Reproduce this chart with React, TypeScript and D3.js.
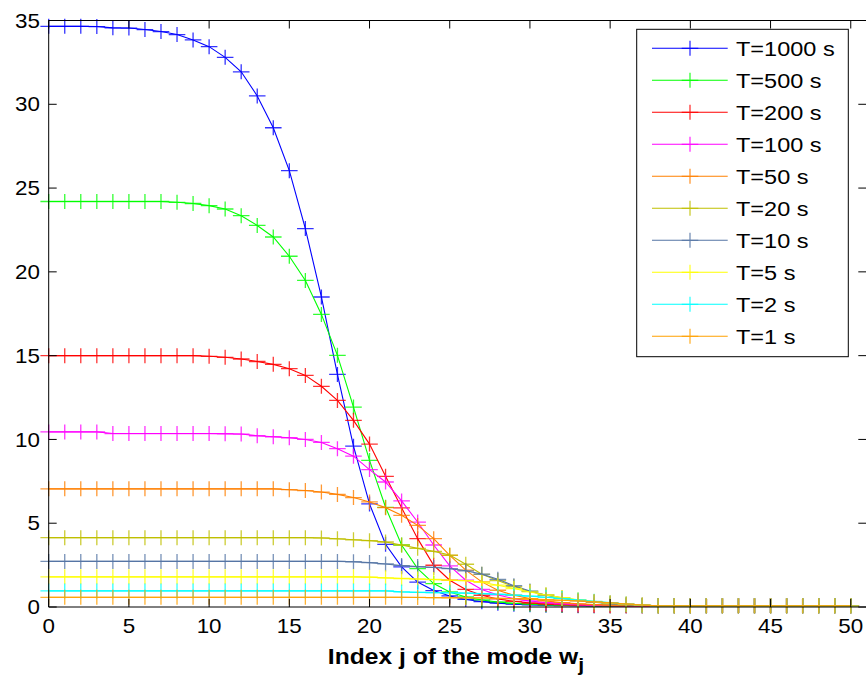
import React from 'react';
import * as d3 from 'd3';

// Mode weights for each observation time T, indexed by mode j = 0..50
const seriesLabels = ['T=1000 s', 'T=500 s', 'T=200 s', 'T=100 s', 'T=50 s', 'T=20 s', 'T=10 s', 'T=5 s', 'T=2 s', 'T=1 s'];
const seriesColors = ['#0000ff', '#00ff00', '#ff0000', '#ff00ff', '#ff8000', '#bfbf00', '#5575a5', '#ffff00', '#00ffff', '#ffa000'];

const wT1000 = [
  34.65, 34.65, 34.65, 34.64, 34.56, 34.55, 34.46, 34.34, 34.16, 33.84,
  33.44, 32.8, 31.94, 30.5, 28.6, 26.04, 22.58, 18.5, 13.88, 9.6,
  6.15, 3.74, 2.4, 1.49, 0.98, 0.66, 0.45, 0.32, 0.23, 0.17,
  0.13, 0.11, 0.09, 0.08, 0.07, 0.07, 0.07, 0.07, 0.07, 0.07,
  0.07, 0.07, 0.07, 0.07, 0.07, 0.07, 0.07, 0.07, 0.07, 0.07, 0.07,
];
const wT500 = [
  24.2, 24.2, 24.2, 24.2, 24.2, 24.2, 24.2, 24.2, 24.15, 24.08,
  23.95, 23.75, 23.35, 22.77, 22.08, 20.93, 19.49, 17.46, 15.02, 11.93,
  8.75, 5.95, 3.7, 2.29, 1.4, 0.9, 0.6, 0.42, 0.3, 0.22,
  0.17, 0.13, 0.11, 0.09, 0.08, 0.07, 0.07, 0.07, 0.07, 0.07,
  0.07, 0.07, 0.07, 0.07, 0.07, 0.07, 0.07, 0.07, 0.07, 0.07, 0.07,
];
const wT200 = [
  15.0, 15.0, 15.0, 15.0, 15.0, 15.0, 15.0, 15.0, 15.0, 15.0,
  14.96, 14.9, 14.8, 14.65, 14.48, 14.22, 13.82, 13.17, 12.33, 11.14,
  9.72, 7.8, 5.92, 4.08, 2.49, 1.6, 1.05, 0.7, 0.48, 0.34,
  0.24, 0.18, 0.14, 0.11, 0.09, 0.08, 0.07, 0.07, 0.07, 0.07,
  0.07, 0.07, 0.07, 0.07, 0.07, 0.07, 0.07, 0.07, 0.07, 0.07, 0.07,
];
const wT100 = [
  10.45, 10.45, 10.45, 10.45, 10.35, 10.35, 10.35, 10.35, 10.35, 10.35,
  10.35, 10.34, 10.32, 10.22, 10.16, 10.1, 10.0, 9.82, 9.45, 9.0,
  8.2, 7.46, 6.33, 5.07, 3.7, 2.45, 1.6, 1.05, 0.72, 0.5,
  0.36, 0.26, 0.19, 0.14, 0.11, 0.09, 0.08, 0.07, 0.07, 0.07,
  0.07, 0.07, 0.07, 0.07, 0.07, 0.07, 0.07, 0.07, 0.07, 0.07, 0.07,
];
const wT50 = [
  7.05, 7.05, 7.05, 7.05, 7.05, 7.05, 7.05, 7.05, 7.05, 7.05,
  7.05, 7.05, 7.05, 7.05, 7.05, 7.0, 6.95, 6.86, 6.72, 6.53,
  6.27, 5.93, 5.47, 4.87, 4.08, 3.08, 2.2, 1.5, 1.0, 0.7,
  0.5, 0.36, 0.26, 0.19, 0.14, 0.11, 0.09, 0.08, 0.07, 0.07,
  0.07, 0.07, 0.07, 0.07, 0.07, 0.07, 0.07, 0.07, 0.07, 0.07, 0.07,
];
const wT20 = [
  4.14, 4.14, 4.14, 4.14, 4.14, 4.14, 4.14, 4.14, 4.14, 4.14,
  4.14, 4.14, 4.14, 4.14, 4.14, 4.14, 4.14, 4.12, 4.07, 4.01,
  3.96, 3.88, 3.7, 3.5, 3.32, 3.1, 2.55, 1.95, 1.58, 1.22,
  0.93, 0.72, 0.55, 0.41, 0.3, 0.21, 0.14, 0.1, 0.07, 0.07,
  0.07, 0.07, 0.07, 0.07, 0.07, 0.07, 0.07, 0.07, 0.07, 0.07, 0.07,
];
const wT10 = [
  2.72, 2.72, 2.72, 2.72, 2.72, 2.72, 2.72, 2.72, 2.72, 2.72,
  2.72, 2.72, 2.72, 2.72, 2.72, 2.72, 2.72, 2.72, 2.72, 2.7,
  2.65, 2.57, 2.47, 2.41, 2.36, 2.29, 2.16, 1.96, 1.65, 1.27,
  0.95, 0.7, 0.52, 0.38, 0.28, 0.2, 0.14, 0.1, 0.07, 0.07,
  0.07, 0.07, 0.07, 0.07, 0.07, 0.07, 0.07, 0.07, 0.07, 0.07, 0.07,
];
const wT5 = [
  1.8, 1.8, 1.8, 1.8, 1.8, 1.8, 1.8, 1.8, 1.8, 1.8,
  1.8, 1.8, 1.8, 1.8, 1.8, 1.8, 1.8, 1.8, 1.8, 1.8,
  1.78, 1.74, 1.7, 1.67, 1.64, 1.6, 1.57, 1.48, 1.3, 1.1,
  0.9, 0.72, 0.56, 0.43, 0.32, 0.23, 0.16, 0.1, 0.07, 0.07,
  0.07, 0.07, 0.07, 0.07, 0.07, 0.07, 0.07, 0.07, 0.07, 0.07, 0.07,
];
const wT2 = [
  0.96, 0.96, 0.96, 0.96, 0.96, 0.96, 0.96, 0.96, 0.96, 0.96,
  0.96, 0.96, 0.96, 0.96, 0.96, 0.96, 0.96, 0.96, 0.96, 0.96,
  0.96, 0.96, 0.9, 0.87, 0.86, 0.85, 0.83, 0.8, 0.76, 0.71,
  0.65, 0.58, 0.5, 0.42, 0.34, 0.26, 0.18, 0.11, 0.07, 0.07,
  0.07, 0.07, 0.07, 0.07, 0.07, 0.07, 0.07, 0.07, 0.07, 0.07, 0.07,
];
const wT1 = [
  0.58, 0.58, 0.58, 0.58, 0.58, 0.58, 0.58, 0.58, 0.58, 0.58,
  0.58, 0.58, 0.58, 0.58, 0.58, 0.58, 0.58, 0.58, 0.58, 0.58,
  0.58, 0.58, 0.58, 0.57, 0.56, 0.55, 0.55, 0.54, 0.52, 0.5,
  0.47, 0.44, 0.4, 0.36, 0.31, 0.25, 0.18, 0.12, 0.07, 0.07,
  0.07, 0.07, 0.07, 0.07, 0.07, 0.07, 0.07, 0.07, 0.07, 0.07, 0.07,
];

const seriesValues = [wT1000, wT500, wT200, wT100, wT50, wT20, wT10, wT5, wT2, wT1];

const xTicks = [0, 5, 10, 15, 20, 25, 30, 35, 40, 45, 50];
const yTicks = [0, 5, 10, 15, 20, 25, 30, 35];

const W = 866;
const H = 677;
const FONT = '"Liberation Sans", Arial, Helvetica, sans-serif';
const STRETCH = 1.12;

export default function App() {
  const x = d3.scaleLinear().domain([0, 51]).range([48.7, 866.8]);
  const y = d3.scaleLinear().domain([0, 35]).range([607, 20.5]);
  const left = x(0);
  const right = x(51);
  const top = y(35);
  const bottom = y(0);

  const line = d3
    .line<number>()
    .x((_, i) => x(i))
    .y((d) => y(d));

  const hx = 8.3;
  const hy = 7.5;
  const plus = (cx: number, cy: number) => `M${cx - hx},${cy}H${cx + hx}M${cx},${cy - hy}V${cy + hy}`;

  // legend geometry
  const lg = { x0: 636.7, y0: 29.3, x1: 848.3, y1: 356.7 };
  const rowY = (i: number) => 48.3 + i * 32;

  return (
    <svg
      width={W}
      height={H}
      viewBox={`0 0 ${W} ${H}`}
      style={{ position: 'absolute', left: 0, top: 0, background: '#fff', display: 'block' }}
    >
      <rect x={0} y={0} width={W} height={H} fill="#fff" />

      {/* curves with plus markers */}
      {seriesValues.map((vals, s) => (
        <g key={seriesLabels[s]}>
          <path d={line(vals) || ''} fill="none" stroke={seriesColors[s]} strokeWidth={1.1} />
          <path
            d={vals.map((v, i) => plus(x(i), y(v))).join('')}
            fill="none"
            stroke={seriesColors[s]}
            strokeWidth={1.3}
            strokeOpacity={0.8}
          />
        </g>
      ))}

      {/* axes box */}
      <path
        d={`M${left},${top}H${right}M${left},${top}V${bottom}H${right}M${right},${top}V${bottom}`}
        fill="none"
        stroke="#000"
        strokeWidth={1}
      />

      {/* x ticks */}
      {xTicks.map((t) => (
        <g key={`xt${t}`}>
          <line x1={x(t)} x2={x(t)} y1={bottom} y2={bottom - 8} stroke="#000" />
          <line x1={x(t)} x2={x(t)} y1={top} y2={top + 8} stroke="#000" />
          <g transform={`translate(${x(t)},${633}) scale(${STRETCH},1)`}>
            <text textAnchor="middle" fontFamily={FONT} fontSize={20} fill="#000">
              {t}
            </text>
          </g>
        </g>
      ))}

      {/* y ticks */}
      {yTicks.map((t) => (
        <g key={`yt${t}`}>
          <line x1={left} x2={left + 8} y1={y(t)} y2={y(t)} stroke="#000" />
          <line x1={right - 8.5} x2={right} y1={y(t)} y2={y(t)} stroke="#000" />
          <g transform={`translate(${40},${y(t) + 7.2}) scale(${STRETCH},1)`}>
            <text textAnchor="end" fontFamily={FONT} fontSize={20} fill="#000">
              {t}
            </text>
          </g>
        </g>
      ))}

      {/* x axis title */}
      <g transform={`translate(${456},${663.5}) scale(${STRETCH},1)`}>
        <text textAnchor="middle" fontFamily={FONT} fontSize={22} fontWeight="bold" fill="#000">
          Index j of the mode w
          <tspan fontSize={19} dy={7}>j</tspan>
        </text>
      </g>

      {/* legend */}
      <rect
        x={lg.x0}
        y={lg.y0}
        width={lg.x1 - lg.x0}
        height={lg.y1 - lg.y0}
        fill="#fff"
        stroke="#000"
        strokeWidth={1}
      />
      {seriesLabels.map((lab, i) => (
        <g key={`lg${lab}`}>
          <line x1={652} x2={727.7} y1={rowY(i)} y2={rowY(i)} stroke={seriesColors[i]} strokeWidth={1.1} />
          <path d={plus(690, rowY(i))} stroke={seriesColors[i]} strokeWidth={1.3} strokeOpacity={0.8} fill="none" />
          <g transform={`translate(${736},${rowY(i) + 7.6}) scale(${STRETCH},1)`}>
            <text fontFamily={FONT} fontSize={21} fill="#000">
              {lab}
            </text>
          </g>
        </g>
      ))}
    </svg>
  );
}
